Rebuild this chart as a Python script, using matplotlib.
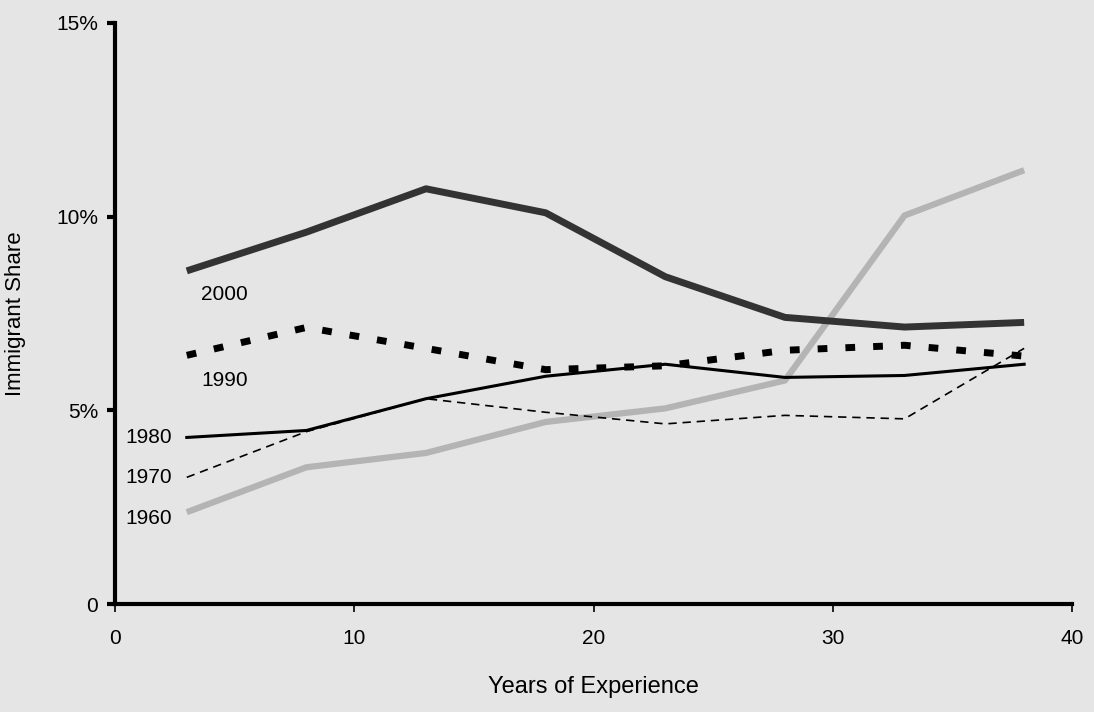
import matplotlib.pyplot as plt

# Years of experience (midpoints of 5-year bins)
experience = [3, 8, 13, 18, 23, 28, 33, 38]

# Immigrant share (%) by census year
share_1960 = [2.37, 3.53, 3.9, 4.7, 5.05, 5.77, 10.03, 11.2]
share_1970 = [3.27, 4.45, 5.3, 4.95, 4.65, 4.87, 4.78, 6.6]
share_1980 = [4.3, 4.48, 5.3, 5.88, 6.19, 5.85, 5.9, 6.19]
share_1990 = [6.42, 7.14, 6.6, 6.05, 6.15, 6.55, 6.68, 6.4]
share_2000 = [8.6, 9.6, 10.72, 10.1, 8.45, 7.4, 7.15, 7.27]

y_ticks = [0, 5, 10, 15]
y_tick_labels = ['0', '5%', '10%', '15%']
x_ticks = [0, 10, 20, 30, 40]

bg = '#e5e5e5'
plt.rcParams['font.family'] = ['Liberation Sans', 'DejaVu Sans']

fig = plt.figure(figsize=(10.94, 7.12), dpi=100, facecolor=bg)
ax = fig.add_axes([115 / 1094, 1 - 604 / 712, (1072 - 115) / 1094, (604 - 23) / 712])
ax.set_facecolor(bg)

# Draw the series
ax.plot(experience, share_1960, color='#b4b4b4', lw=4.5, solid_capstyle='butt')
ax.plot(experience, share_1970, color='black', lw=1.2, ls=(0, (5, 3.5)))
ax.plot(experience, share_1980, color='black', lw=2.2)
ax.plot(experience, share_1990, color='black', lw=5.0, ls=(0, (1.4, 2.6)))
ax.plot(experience, share_2000, color='#333333', lw=5.0, solid_capstyle='butt')

# Inline series labels
fs = 15
ax.text(3.6, 8.0, '2000', fontsize=fs, ha='left', va='center')
ax.text(3.6, 5.77, '1990', fontsize=fs, ha='left', va='center')
ax.text(2.4, 4.3, '1980', fontsize=fs, ha='right', va='center')
ax.text(2.4, 3.27, '1970', fontsize=fs, ha='right', va='center')
ax.text(2.4, 2.2, '1960', fontsize=fs, ha='right', va='center')

# Axes styling
ax.set_xlim(0, 40)
ax.set_ylim(0, 15)
ax.set_xticks(x_ticks)
ax.set_yticks(y_ticks)
ax.set_yticklabels(y_tick_labels)
for side in ['top', 'right']:
    ax.spines[side].set_visible(False)
for side in ['left', 'bottom']:
    ax.spines[side].set_linewidth(3)
ax.tick_params(axis='y', direction='out', length=6, width=3, labelsize=fs, pad=6)
ax.tick_params(axis='x', direction='out', length=6, width=1.2, labelsize=fs, pad=12)

ax.set_xlabel('Years of Experience', fontsize=17, labelpad=20)
ax.set_ylabel('Immigrant Share', fontsize=16, labelpad=22)

plt.savefig('out.png', dpi=100, facecolor=bg)
plt.close(fig)
